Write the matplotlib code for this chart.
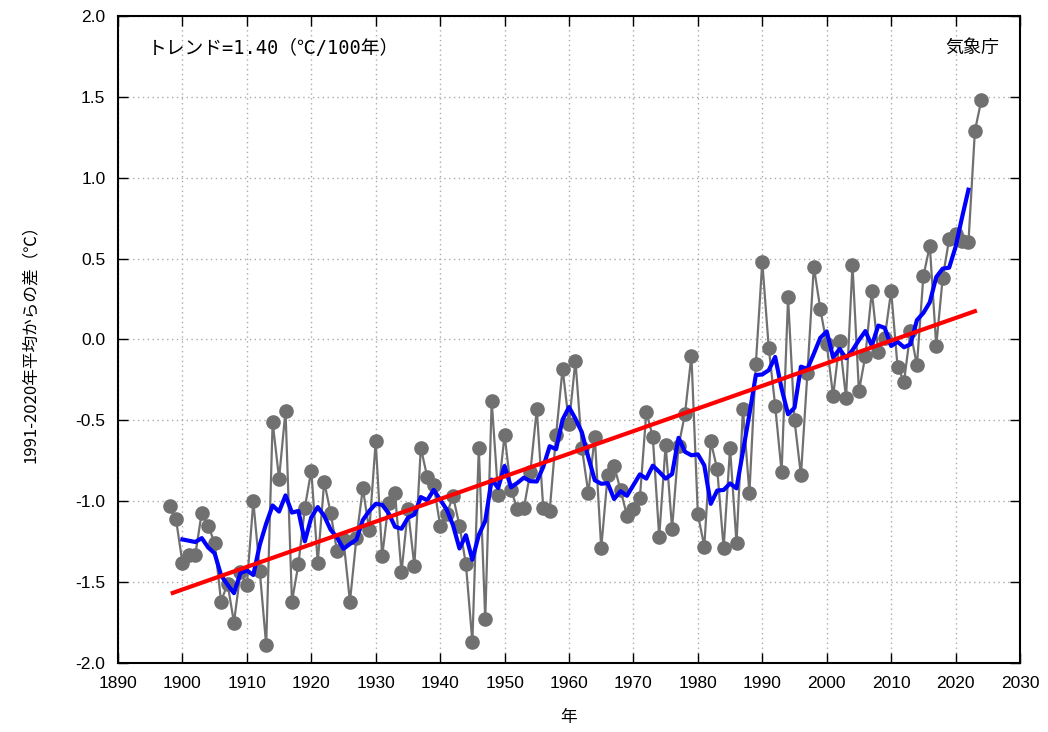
import numpy as np
import matplotlib
matplotlib.use("Agg")
import matplotlib.pyplot as plt
from matplotlib.ticker import MultipleLocator, FormatStrFormatter

plt.rcParams['font.family'] = ['Noto Sans CJK JP', 'DejaVu Sans']

years = np.arange(1898, 2025)
anomaly = [
    -1.03, -1.11, -1.38, -1.33, -1.33, -1.07, -1.15, -1.26, -1.62, -1.51,  # 1898-1907
    -1.75, -1.44, -1.52, -1.00, -1.43, -1.89, -0.51, -0.86, -0.44, -1.62,  # 1908-1917
    -1.39, -1.04, -0.81, -1.38, -0.88, -1.07, -1.31, -1.24, -1.62, -1.23,  # 1918-1927
    -0.92, -1.18, -0.63, -1.34, -1.01, -0.95, -1.44, -1.05, -1.40, -0.67,  # 1928-1937
    -0.85, -0.90, -1.15, -1.08, -0.97, -1.15, -1.39, -1.87, -0.67, -1.73,  # 1938-1947
    -0.38, -0.96, -0.59, -0.93, -1.05, -1.04, -0.82, -0.43, -1.04, -1.06,  # 1948-1957
    -0.59, -0.18, -0.52, -0.13, -0.67, -0.95, -0.60, -1.29, -0.84, -0.78,  # 1958-1967
    -0.93, -1.09, -1.05, -0.98, -0.45, -0.60, -1.22, -0.65, -1.17, -0.66,  # 1968-1977
    -0.46, -0.10, -1.08, -1.28, -0.63, -0.80, -1.29, -0.67, -1.26, -0.43,  # 1978-1987
    -0.95, -0.15, 0.48, -0.05, -0.41, -0.82, 0.26, -0.50, -0.84, -0.21,    # 1988-1997
    0.45, 0.19, -0.03, -0.35, -0.01, -0.36, 0.46, -0.32, -0.10, 0.30,      # 1998-2007
    -0.08, 0.01, 0.30, -0.17, -0.26, 0.05, -0.16, 0.39, 0.58, -0.04,       # 2008-2017
    0.38, 0.62, 0.65, 0.61, 0.60, 1.29, 1.48,                              # 2018-2024
]
anomaly = np.array(anomaly)

x_ticks = list(range(1890, 2031, 10))
trend_label = "トレンド=1.40（℃/100年）"
source_label = "気象庁"
y_label = "1991-2020年平均からの差（℃）"
x_label = "年"

# 5-year running mean (centered)
run_mean = np.convolve(anomaly, np.ones(5) / 5, mode='valid')
run_years = years[2:-2]

# linear trend
coef = np.polyfit(years, anomaly, 1)
trend_x = np.array([years[0] + 0.5, years[-1] - 1])
trend_y = np.polyval(coef, trend_x)

fig = plt.figure(figsize=(10.48, 7.32), dpi=100)
ax = fig.add_axes([118/1048, 1-663/732, (1020-118)/1048, (663-16)/732])

ax.plot(years, anomaly, color='#707070', lw=1.6, marker='o', ms=9.5,
        mfc='#707070', mec='#707070', zorder=3)
ax.plot(run_years, run_mean, color='#0000ff', lw=3.0, zorder=4)
ax.plot(trend_x, trend_y, color='#ff0000', lw=3.0, zorder=5)

ax.set_xlim(1890, 2030)
ax.set_ylim(-2.0, 2.0)
ax.set_xticks(x_ticks)
ax.yaxis.set_major_locator(MultipleLocator(0.5))
ax.yaxis.set_major_formatter(FormatStrFormatter('%.1f'))
ax.grid(True, color='#aaaaaa', linestyle=(0, (1, 2.5)), linewidth=1.0)
ax.tick_params(direction='in', top=True, right=True, length=7, width=1,
               labelsize=12.5, pad=9)
for lab in ax.get_xticklabels() + ax.get_yticklabels():
    lab.set_fontfamily(['Liberation Sans', 'DejaVu Sans'])
for s in ax.spines.values():
    s.set_linewidth(1.5)

ax.set_ylabel(y_label, fontsize=12, labelpad=26)
ax.set_xlabel(x_label, fontsize=12, labelpad=13)

ax.text(0.033, 0.95, trend_label, transform=ax.transAxes, fontsize=13.5,
        ha='left', va='center', family=['DejaVu Sans Mono', 'Noto Sans CJK JP'])
ax.text(0.977, 0.95, source_label, transform=ax.transAxes, fontsize=13,
        ha='right', va='center')

fig.savefig('out.png', dpi=100)
